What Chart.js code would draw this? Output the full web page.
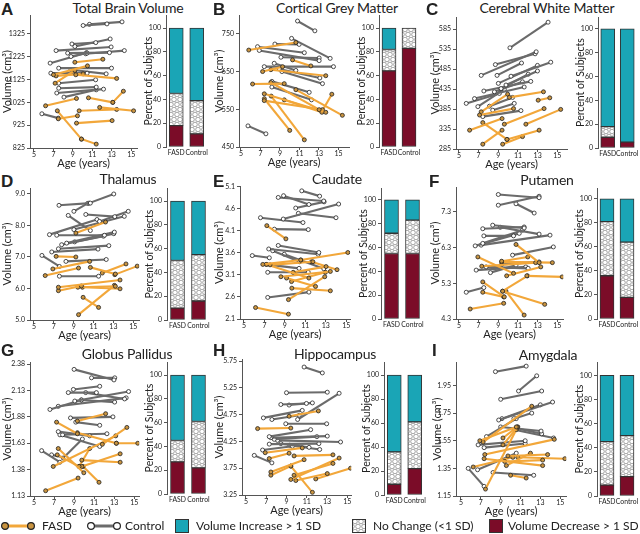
<!DOCTYPE html>
<html>
<head>
<meta charset="utf-8">
<script src="https://cdn.jsdelivr.net/npm/chart.js@4.4.0/dist/chart.umd.min.js"></script>
<style>
  body { margin: 0; width: 640px; height: 534px; position: relative; overflow: hidden; background: #fff; font-family: Lato, 'Open Sans', sans-serif; color: #222; }
  .letter { position: absolute; font-family: 'Liberation Sans', Arial, sans-serif; font-weight: bold; font-size: 17px; line-height: 17px; }
  .title { position: absolute; font-size: 14px; line-height: 16px; white-space: nowrap; transform: translateX(-50%); letter-spacing: -0.2px; }
  .leg { position: absolute; font-size: 12px; line-height: 16px; white-space: nowrap; }
</style>
</head>
<body>
<script>
// shared axis values
const ageTicks = [5, 7, 9, 11, 13, 15];
const pctTicks = [0, 20, 40, 60, 80, 100];
const groups = ['FASD', 'Control'];

// each segment: [age1, volume1, age2, volume2]
// A - total brain volume
const tbvTicks = [825, 925, 1025, 1125, 1225, 1325];
const tbvControl = [
  [10.05, 1362, 12.5, 1369], [10.7, 1367, 14.05, 1378], [8.9, 1281, 11.35, 1287], [9.2, 1270, 12.83, 1303],
  [7.27, 1252, 12.93, 1268], [8.46, 1241, 12.76, 1243], [8.8, 1226, 10.46, 1241], [10.32, 1238, 14.29, 1252],
  [6.66, 1197, 10.4, 1243], [7.54, 1175, 12.97, 1175], [6.73, 1153, 10.46, 1153], [8.8, 1168, 12.42, 1150],
  [7.54, 1109, 11.34, 1124], [7.54, 1087, 11.4, 1092], [7.34, 1066, 12.15, 1083], [8.08, 1048, 11.4, 1080],
  [5.81, 975, 7.5, 956]
];
const tbvFasd = [
  [9.2, 1201, 12.08, 1214], [7.0, 1146, 10.5, 1185], [7.17, 1109, 9.2, 1165], [9.3, 1146, 13.5, 1130],
  [7.27, 1141, 10.05, 1150], [6.19, 1010, 9.37, 1042], [10.6, 1045, 13.1, 1025], [13.1, 1025, 14.19, 1074],
  [11.75, 1003, 15.24, 988], [9.64, 988, 13.5, 994], [7.5, 953, 9.47, 966], [7.4, 988, 9.88, 864],
  [9.88, 864, 11.4, 842], [9.37, 934, 13.03, 945]
];
const tbvDecrease = [18, 11], tbvNoChange = [27, 28], tbvIncrease = [55, 61];

// B - cortical grey matter
const cgmTicks = [450, 550, 650, 750];
const cgmControl = [
  [10.8, 784, 12.58, 758], [10.19, 738, 14.15, 685], [6.7, 716, 11.5, 700], [8.48, 723, 10.97, 722],
  [6.88, 706, 13.02, 679], [9.1, 688, 13.02, 686], [7.39, 663, 14.49, 663], [8.41, 672, 10.63, 653],
  [8.92, 657, 13.09, 633], [9.2, 650, 13.36, 618], [8.17, 624, 12.0, 595], [8.17, 609, 12.24, 575],
  [5.72, 506, 7.56, 485]
];
const cgmFasd = [
  [5.8, 707, 10.63, 727], [10.29, 681, 12.17, 665], [7.22, 650, 9.27, 663], [8.07, 655, 13.7, 639],
  [6.19, 617, 9.44, 618], [8.07, 621, 13.02, 549], [7.39, 591, 13.7, 542], [7.39, 573, 13.36, 549],
  [9.44, 575, 13.3, 542], [13.3, 544, 14.32, 590], [10.63, 602, 15.4, 534], [7.4, 578, 10.0, 494],
  [8.1, 585, 11.5, 469]
];
const cgmDecrease = [64, 83], cgmNoChange = [18, 17], cgmIncrease = [18, 0];

// C - cerebral white matter
const cwmTicks = [285, 335, 385, 435, 485, 535, 585];
const cwmControl = [
  [10.18, 538, 14.06, 602], [7.26, 469, 12.85, 528], [8.7, 496, 12.74, 523], [8.87, 469, 11.36, 500],
  [10.29, 467, 14.33, 502], [9.0, 449, 12.98, 494], [9.78, 445, 12.98, 480], [9.28, 436, 12.04, 472],
  [7.53, 430, 12.3, 454], [8.6, 428, 11.46, 453], [6.58, 411, 11.63, 440], [5.74, 399, 9.11, 424],
  [6.92, 391, 9.61, 434], [8.1, 392, 10.45, 414], [7.42, 366, 11.3, 381], [8.43, 382, 10.62, 399]
];
const cwmFasd = [
  [10.12, 414, 13.59, 428], [7.09, 370, 10.55, 386], [6.08, 332, 9.38, 361], [7.26, 378, 9.95, 422],
  [9.61, 347, 13.65, 386], [13.05, 407, 14.23, 413], [11.8, 347, 15.34, 384], [7.42, 351, 9.88, 309],
  [9.88, 309, 13.15, 332], [9.44, 297, 11.46, 316], [7.42, 297, 9.38, 332]
];
const cwmDecrease = [9, 5], cwmNoChange = [9, 0], cwmIncrease = [82, 95];

// D - thalamus
const thalTicks = [5, 6, 7, 8, 9];
const thalControl = [
  [7.52, 8.64, 10.68, 8.71], [10.55, 8.71, 13.04, 9.0], [9.02, 8.45, 10.4, 8.7], [8.45, 8.32, 10.68, 7.84],
  [10.22, 8.35, 13.14, 8.28], [11.6, 8.13, 14.5, 8.45], [9.02, 7.87, 14.1, 8.29], [6.56, 7.71, 11.35, 8.19],
  [7.29, 7.69, 12.1, 7.69], [8.29, 7.44, 13.1, 7.79], [7.79, 7.39, 13.04, 7.74], [9.1, 7.48, 12.0, 7.66],
  [7.46, 7.26, 12.54, 7.36], [6.79, 7.16, 11.45, 7.25], [5.8, 7.05, 7.56, 6.7], [8.22, 6.86, 12.28, 6.92],
  [7.56, 6.39, 11.51, 6.39]
];
const thalFasd = [
  [9.22, 7.76, 12.21, 8.11], [7.23, 7.02, 9.22, 7.0], [6.9, 6.62, 10.61, 6.86], [6.13, 6.41, 9.49, 6.65],
  [10.68, 6.67, 13.2, 6.46], [11.88, 6.49, 14.27, 6.78], [13.14, 6.44, 15.4, 6.71], [7.46, 6.04, 13.67, 6.27],
  [7.46, 5.93, 9.78, 6.08], [9.42, 6.04, 13.2, 6.07], [9.88, 6.04, 13.67, 5.99], [9.95, 5.72, 11.51, 5.4],
  [9.49, 5.17, 13.1, 6.1]
];
const thalDecrease = [10, 16], thalNoChange = [40, 39], thalIncrease = [50, 45];

// E - caudate
const caudTicks = [2.1, 2.6, 3.1, 3.6, 4.1, 4.6, 5.1];
const caudControl = [
  [10.65, 5.01, 12.4, 4.89], [8.87, 4.9, 11.35, 4.7], [8.35, 4.86, 12.8, 4.78], [10.06, 4.62, 12.84, 4.76],
  [8.84, 4.37, 14.26, 4.71], [10.32, 4.5, 14.0, 4.4], [6.61, 4.4, 10.77, 4.29], [7.97, 4.14, 11.29, 4.13],
  [8.35, 3.77, 12.32, 3.61], [7.42, 3.69, 12.26, 3.57], [5.81, 3.54, 7.48, 3.49], [7.81, 3.65, 10.45, 3.4],
  [8.94, 3.57, 12.81, 3.24], [7.16, 3.34, 10.39, 3.25], [7.32, 3.16, 11.29, 3.16], [7.32, 2.59, 11.35, 2.71]
];
const caudFasd = [
  [7.23, 4.22, 9.1, 3.92], [6.84, 3.34, 10.55, 3.44], [10.55, 3.44, 15.16, 3.61], [7.55, 3.33, 11.74, 3.4],
  [7.23, 3.34, 11.35, 3.03], [9.81, 3.16, 13.03, 3.29], [11.61, 3.4, 14.1, 3.22], [8.61, 3.06, 13.45, 3.18],
  [9.16, 3.03, 12.0, 2.84], [9.65, 2.95, 12.97, 3.16], [9.68, 2.8, 13.45, 2.74], [9.35, 2.54, 12.9, 3.06],
  [6.13, 2.36, 9.35, 2.21]
];
const caudDecrease = [55, 55], caudNoChange = [17, 28], caudIncrease = [28, 17];

// F - putamen
const putTicks = [4.3, 5.3, 6.3, 7.3];
const putControl = [
  [9.0, 7.79, 13.15, 7.7], [9.0, 7.49, 13.15, 7.74], [10.8, 7.53, 12.65, 7.27], [8.43, 6.93, 11.63, 6.85],
  [7.42, 6.83, 11.63, 6.88], [9.2, 6.87, 13.15, 6.68], [7.53, 6.63, 10.55, 6.63], [7.42, 6.42, 11.46, 6.79],
  [6.65, 6.35, 11.13, 6.7], [7.26, 6.37, 14.26, 6.65], [10.45, 6.09, 14.6, 6.32], [9.34, 5.83, 13.15, 5.9],
  [7.76, 5.76, 12.04, 5.72], [6.75, 5.67, 11.8, 5.76], [8.2, 5.6, 10.8, 5.81], [5.74, 5.05, 7.53, 5.18]
];
const putFasd = [
  [10.8, 6.39, 13.15, 5.88], [6.92, 6.04, 10.55, 5.58], [9.34, 5.92, 12.0, 6.04], [7.32, 5.78, 12.8, 5.88],
  [9.34, 5.9, 14.5, 5.88], [9.85, 5.51, 13.32, 5.76], [11.9, 5.51, 15.5, 5.48], [9.44, 5.08, 11.97, 5.51],
  [7.42, 5.34, 9.61, 4.92], [7.42, 5.05, 9.55, 4.92], [9.44, 5.08, 13.72, 4.71], [9.78, 5.08, 11.63, 4.41],
  [6.14, 4.58, 9.55, 4.74]
];
const putDecrease = [36, 18], putNoChange = [45, 46], putIncrease = [19, 36];

// G - globus pallidus
const gpTicks = [1.13, 1.38, 1.63, 1.88, 2.13, 2.38];
const gpControl = [
  [9.0, 2.33, 12.98, 2.23], [10.74, 2.25, 13.06, 2.25], [8.93, 2.14, 11.56, 2.17], [8.42, 2.11, 11.23, 2.11],
  [10.16, 2.11, 14.04, 2.05], [9.07, 2.03, 14.44, 2.12], [6.59, 1.95, 9.73, 2.04], [7.42, 1.98, 14.2, 2.06],
  [9.73, 2.04, 13.05, 2.02], [8.64, 1.87, 12.88, 1.88], [9.17, 1.83, 11.56, 1.8], [7.42, 1.74, 10.56, 1.7],
  [7.85, 1.71, 12.28, 1.72], [7.58, 1.71, 11.56, 1.6], [5.76, 1.56, 7.58, 1.45], [6.75, 1.52, 8.24, 1.49],
  [7.92, 1.49, 9.83, 1.67]
];
const gpFasd = [
  [9.33, 1.84, 12.15, 1.91], [7.25, 1.83, 9.33, 1.72], [9.33, 1.73, 13.22, 1.63], [13.22, 1.63, 15.36, 1.63],
  [11.82, 1.62, 14.27, 1.78], [6.92, 1.41, 13.16, 1.7], [7.42, 1.58, 9.97, 1.35], [7.32, 1.52, 9.5, 1.41],
  [9.77, 1.41, 13.6, 1.53], [9.77, 1.47, 13.6, 1.45], [9.5, 1.41, 10.56, 1.58], [9.9, 1.41, 11.49, 1.26],
  [6.16, 1.18, 9.4, 1.3]
];
const gpDecrease = [27, 22], gpNoChange = [18, 39], gpIncrease = [55, 39];

// H - hippocampus
const hipTicks = [3.25, 3.75, 4.25, 4.75, 5.25, 5.75];
const hipControl = [
  [10.74, 5.64, 12.54, 5.53], [9.0, 5.16, 13.03, 5.17], [8.44, 4.94, 10.97, 4.96], [9.26, 4.93, 11.56, 4.97],
  [10.1, 4.66, 14.2, 5.15], [6.72, 4.69, 10.56, 4.83], [7.56, 4.66, 10.26, 4.74], [8.93, 4.58, 12.97, 4.58],
  [7.3, 4.34, 11.39, 4.47], [7.46, 4.32, 13.03, 4.35], [7.79, 4.29, 12.0, 4.34], [8.11, 4.27, 14.34, 4.24],
  [7.3, 4.2, 12.2, 4.21], [8.44, 4.21, 11.23, 4.14], [5.82, 3.99, 7.56, 3.85], [6.64, 4.09, 9.59, 4.16],
  [9.33, 4.18, 12.28, 4.1]
];
const hipFasd = [
  [9.26, 4.72, 12.15, 4.82], [6.15, 4.49, 9.43, 4.5], [6.9, 4.04, 10.56, 4.13], [7.3, 3.93, 9.26, 4.03],
  [9.75, 3.98, 13.59, 4.0], [7.46, 3.68, 10.74, 3.91], [7.46, 3.62, 9.43, 3.79], [9.43, 3.79, 11.56, 3.3],
  [9.75, 3.62, 13.59, 3.84], [9.43, 3.54, 14.2, 3.94], [9.92, 3.52, 13.03, 3.65], [11.89, 3.55, 15.33, 3.75]
];
const hipDecrease = [9, 22], hipNoChange = [27, 39], hipIncrease = [64, 39];

// I - amygdala
const amyTicks = [1.15, 1.35, 1.55, 1.75, 1.95];
const amyControl = [
  [8.47, 2.05, 11.57, 2.09], [10.8, 1.91, 12.63, 2.02], [9.0, 1.85, 13.13, 1.91], [8.8, 1.7, 14.23, 1.83],
  [9.13, 1.71, 13.0, 1.81], [10.33, 1.71, 12.13, 1.75], [7.57, 1.58, 10.57, 1.71], [9.0, 1.65, 13.07, 1.62],
  [10.57, 1.64, 13.13, 1.6], [6.73, 1.52, 11.47, 1.55], [7.33, 1.5, 11.47, 1.53], [10.4, 1.63, 14.33, 1.57],
  [5.73, 1.35, 7.33, 1.22], [6.67, 1.34, 10.57, 1.46], [8.23, 1.32, 12.33, 1.3]
];
const amyFasd = [
  [6.9, 1.55, 10.57, 1.65], [7.23, 1.54, 12.13, 1.8], [9.23, 1.57, 10.67, 1.65], [9.23, 1.52, 10.73, 1.65],
  [7.4, 1.45, 14.4, 1.56], [7.33, 1.42, 13.23, 1.37], [9.73, 1.44, 13.73, 1.45], [9.4, 1.4, 13.23, 1.41],
  [9.57, 1.37, 12.0, 1.46], [10.73, 1.43, 15.47, 1.42], [6.23, 1.36, 10.23, 1.43], [7.47, 1.2, 10.57, 1.63],
  [10.0, 1.3, 11.57, 1.28]
];
const amyDecrease = [9, 16], amyNoChange = [36, 34], amyIncrease = [55, 50];

const FONT = "Lato, 'Open Sans', sans-serif";
const ORANGE = '#f2a73a', ORANGE_PT = '#c99440', GREY = '#6b6b6b';
const TEAL = '#1aa5b6', MAROON = '#7b0c28', AXIS = '#555';

const panels = [
  { key: 'A', lx: 1, ly: 1, title: 'Total Brain Volume', tx: 128, ty: 0, ticks: tbvTicks, dec: 0, fasd: tbvFasd, control: tbvControl,
    bars: [tbvDecrease, tbvNoChange, tbvIncrease],
    line: { x0: 0, pL: 30, pR: 138, pT: 15, pB: 148, xmin: 4.59, xmax: 15.61, ymin: 825, ymax: 1408 },
    bar: { bL: 166, bR: 207, bT: 15, bB: 147, ymax: 111 } },
  { key: 'B', lx: 213, ly: 1, title: 'Cortical Grey Matter', tx: 337, ty: 0, ticks: cgmTicks, dec: 0, fasd: cgmFasd, control: cgmControl,
    bars: [cgmDecrease, cgmNoChange, cgmIncrease],
    line: { x0: 212, pL: 239, pR: 350, pT: 15, pB: 147, xmin: 4.8, xmax: 16.1, ymin: 450, ymax: 800 },
    bar: { bL: 379, bR: 419, bT: 15, bB: 147, ymax: 111 } },
  { key: 'C', lx: 426, ly: 1, title: 'Cerebral White Matter', tx: 547, ty: 0, ticks: cwmTicks, dec: 0, fasd: cwmFasd, control: cwmControl,
    bars: [cwmDecrease, cwmNoChange, cwmIncrease],
    line: { x0: 428, pL: 456, pR: 568, pT: 17, pB: 149, xmin: 4.7, xmax: 16.0, ymin: 285, ymax: 615 },
    bar: { bL: 598, bR: 637, bT: 17, bB: 148, ymax: 110 } },
  { key: 'D', lx: 1, ly: 173, title: 'Thalamus', tx: 128, ty: 171, ticks: thalTicks, dec: 1, fasd: thalFasd, control: thalControl,
    bars: [thalDecrease, thalNoChange, thalIncrease],
    line: { x0: 0, pL: 30, pR: 140, pT: 188, pB: 320, xmin: 4.6, xmax: 15.6, ymin: 5, ymax: 9.19 },
    bar: { bL: 167, bR: 209, bT: 188, bB: 320, ymax: 111 } },
  { key: 'E', lx: 213, ly: 173, title: 'Caudate', tx: 337, ty: 171, ticks: caudTicks, dec: 1, fasd: caudFasd, control: caudControl,
    bars: [caudDecrease, caudNoChange, caudIncrease],
    line: { x0: 212, pL: 240, pR: 351, pT: 186, pB: 319, xmin: 4.61, xmax: 15.39, ymin: 2.1, ymax: 5.12 },
    bar: { bL: 381, bR: 423, bT: 188, bB: 319, ymax: 110 } },
  { key: 'F', lx: 429, ly: 173, title: 'Putamen', tx: 547, ty: 172, ticks: putTicks, dec: 1, fasd: putFasd, control: putControl,
    bars: [putDecrease, putNoChange, putIncrease],
    line: { x0: 428, pL: 456, pR: 564, pT: 187, pB: 319, xmin: 4.7, xmax: 15.6, ymin: 4.3, ymax: 8.0 },
    bar: { bL: 597, bR: 637, bT: 188, bB: 319, ymax: 109 } },
  { key: 'G', lx: 1, ly: 342, title: 'Globus Pallidus', tx: 127, ty: 346, ticks: gpTicks, dec: 2, fasd: gpFasd, control: gpControl,
    bars: [gpDecrease, gpNoChange, gpIncrease],
    line: { x0: 0, pL: 30, pR: 140, pT: 362, pB: 496, xmin: 4.6, xmax: 15.5, ymin: 1.13, ymax: 2.40 },
    bar: { bL: 167, bR: 209, bT: 362, bB: 494, ymax: 111 } },
  { key: 'H', lx: 213, ly: 342, title: 'Hippocampus', tx: 335, ty: 346, ticks: hipTicks, dec: 2, fasd: hipFasd, control: hipControl,
    bars: [hipDecrease, hipNoChange, hipIncrease],
    line: { x0: 212, pL: 242, pR: 352, pT: 359, pB: 495, xmin: 4.61, xmax: 15.39, ymin: 3.25, ymax: 5.79 },
    bar: { bL: 384, bR: 425, bT: 362, bB: 495, ymax: 111 } },
  { key: 'I', lx: 432, ly: 342, title: 'Amygdala', tx: 548, ty: 347, ticks: amyTicks, dec: 2, fasd: amyFasd, control: amyControl,
    bars: [amyDecrease, amyNoChange, amyIncrease],
    line: { x0: 430, pL: 456, pR: 567, pT: 362, pB: 496, xmin: 4.5, xmax: 15.6, ymin: 1.15, ymax: 2.12 },
    bar: { bL: 597, bR: 637, bT: 362, bB: 496, ymax: 111 } }
];

// hexagonal circle pattern for "no change"
function makePattern(ctx) {
  const tile = document.createElement('canvas');
  tile.width = 6; tile.height = 10;
  const t = tile.getContext('2d');
  t.fillStyle = '#fff';
  t.fillRect(0, 0, 6, 10);
  t.strokeStyle = '#8a8a8a';
  t.lineWidth = 0.8;
  [[3, 2.5], [0, 7.5], [6, 7.5]].forEach(([cx, cy]) => {
    t.beginPath(); t.arc(cx, cy, 2.3, 0, Math.PI * 2); t.stroke();
  });
  return ctx.createPattern(tile, 'repeat');
}

function addCanvas(left, top, w, h) {
  const c = document.createElement('canvas');
  c.width = w; c.height = h;
  c.style.cssText = `position:absolute;left:${left}px;top:${top}px;width:${w}px;height:${h}px`;
  document.body.appendChild(c);
  return c;
}

function addText(cls, text, left, top) {
  const d = document.createElement('div');
  d.className = cls;
  d.textContent = text;
  d.style.left = left + 'px';
  d.style.top = top + 'px';
  document.body.appendChild(d);
}

function segSets(list, color, fill) {
  return list.map(s => ({
    data: [{ x: s[0], y: s[1] }, { x: s[2], y: s[3] }],
    showLine: true,
    borderColor: color,
    borderWidth: 2.1,
    pointRadius: 2.0,
    pointBackgroundColor: fill,
    pointBorderColor: '#222',
    pointBorderWidth: 0.8
  }));
}

function tickFont(size) {
  return { family: FONT, size };
}

function renderLine(p) {
  const b = p.line;
  const top = b.pT - 8;
  const c = addCanvas(b.x0, top, b.pR + 4 - b.x0, b.pB + 22 - top);
  const yw = b.pL - b.x0;
  new Chart(c.getContext('2d'), {
    type: 'scatter',
    data: { datasets: segSets(p.fasd, ORANGE, ORANGE_PT).concat(segSets(p.control, GREY, '#fff')) },
    options: {
      responsive: false,
      animation: false,
      layout: { padding: { top: 8, right: 4, left: 0, bottom: 0 } },
      plugins: { legend: { display: false }, tooltip: { enabled: false } },
      scales: {
        x: {
          type: 'linear', min: b.xmin, max: b.xmax,
          afterBuildTicks: a => { a.ticks = ageTicks.map(v => ({ value: v })); },
          afterFit: s => { s.height = 22; s.paddingLeft = 0; s.paddingRight = 0; },
          border: { color: AXIS, width: 1 },
          grid: { drawOnChartArea: false, tickLength: 3, color: AXIS },
          ticks: { font: tickFont(7), color: '#222', padding: 0, maxRotation: 0, autoSkip: false },
          title: { display: true, text: 'Age (years)', font: tickFont(11), color: '#222', padding: 0 }
        },
        y: {
          min: b.ymin, max: b.ymax,
          afterBuildTicks: a => { a.ticks = p.ticks.map(v => ({ value: v })); },
          afterFit: s => { s.width = yw; s.paddingTop = 0; s.paddingBottom = 0; },
          border: { color: AXIS, width: 1 },
          grid: { drawOnChartArea: false, tickLength: 3, color: AXIS },
          ticks: { font: tickFont(7), color: '#222', padding: 2, autoSkip: false, callback: v => v.toFixed(p.dec) },
          title: { display: true, text: 'Volume (cm³)', font: tickFont(11), color: '#222', padding: { top: 1, bottom: 0 } }
        }
      }
    }
  });
}

function renderBar(p) {
  const b = p.bar;
  const left = b.bL - 25, top = b.bT - 8;
  const c = addCanvas(left, top, b.bR + 4 - left, b.bB + 14 - top);
  const ctx = c.getContext('2d');
  const pattern = makePattern(ctx);
  const common = { borderColor: '#333', borderWidth: 1, borderSkipped: false, barThickness: 14 };
  new Chart(ctx, {
    type: 'bar',
    data: {
      labels: groups,
      datasets: [
        Object.assign({ label: 'Volume Decrease > 1 SD', data: p.bars[0], backgroundColor: MAROON }, common),
        Object.assign({ label: 'No Change (<1 SD)', data: p.bars[1], backgroundColor: pattern }, common),
        Object.assign({ label: 'Volume Increase > 1 SD', data: p.bars[2], backgroundColor: TEAL }, common)
      ]
    },
    options: {
      responsive: false,
      animation: false,
      layout: { padding: { top: 8, right: 4, left: 0, bottom: 0 } },
      plugins: { legend: { display: false }, tooltip: { enabled: false } },
      scales: {
        x: {
          stacked: true,
          afterFit: s => { s.height = 14; s.paddingLeft = 0; s.paddingRight = 0; },
          border: { display: false },
          grid: { display: false, drawTicks: false },
          ticks: { font: tickFont(6.8), color: '#222', padding: 2, maxRotation: 0, autoSkip: false }
        },
        y: {
          stacked: true, min: 0, max: b.ymax,
          afterBuildTicks: a => { a.ticks = pctTicks.map(v => ({ value: v })); },
          afterFit: s => { s.width = 25; s.paddingTop = 0; s.paddingBottom = 0; },
          border: { color: AXIS, width: 1 },
          grid: { drawOnChartArea: false, tickLength: 3, color: AXIS },
          ticks: { font: tickFont(7), color: '#222', padding: 2, autoSkip: false },
          title: { display: true, text: 'Percent of Subjects', font: tickFont(10.5), color: '#222', padding: { top: 1, bottom: 0 } }
        }
      }
    }
  });
}

panels.forEach(p => {
  addText('letter', p.key, p.lx, p.ly);
  const t = document.createElement('div');
  t.className = 'title';
  t.textContent = p.title;
  t.style.left = p.tx + 'px';
  t.style.top = p.ty + 'px';
  document.body.appendChild(t);
  renderLine(p);
  renderBar(p);
});

// legend
const LEG_Y = 520;
function legendMarker(left, color, fill) {
  const c = addCanvas(left, LEG_Y, 36, 12);
  const g = c.getContext('2d');
  g.strokeStyle = color; g.lineWidth = 3;
  g.beginPath(); g.moveTo(5, 6); g.lineTo(31, 6); g.stroke();
  [5, 31].forEach(x => {
    g.beginPath(); g.arc(x, 6, 3.4, 0, Math.PI * 2);
    g.fillStyle = fill; g.fill();
    g.strokeStyle = '#222'; g.lineWidth = 1.2; g.stroke();
  });
}
function legendBox(left, fill) {
  const c = addCanvas(left, LEG_Y - 1, 14, 14);
  const g = c.getContext('2d');
  g.fillStyle = fill === 'pattern' ? makePattern(g) : fill;
  g.fillRect(0, 0, 14, 14);
  g.strokeStyle = '#333'; g.lineWidth = 1;
  g.strokeRect(0.5, 0.5, 13, 13);
}
legendMarker(0, ORANGE, ORANGE_PT);
addText('leg', 'FASD', 42, LEG_Y - 2);
legendMarker(86, GREY, '#fff');
addText('leg', 'Control', 125, LEG_Y - 2);
legendBox(175, TEAL);
addText('leg', 'Volume Increase > 1 SD', 196, LEG_Y - 2);
legendBox(352, 'pattern');
addText('leg', 'No Change (<1 SD)', 373, LEG_Y - 2);
legendBox(489, MAROON);
addText('leg', 'Volume Decrease > 1 SD', 508, LEG_Y - 2);
</script>
</body>
</html>
